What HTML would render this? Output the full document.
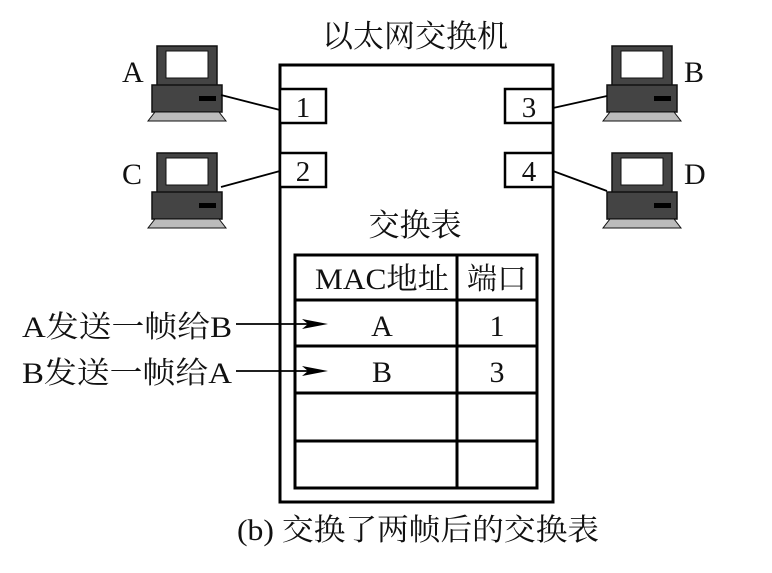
<!DOCTYPE html>
<html><head><meta charset="utf-8"><style>
body{margin:0;background:#fff}
text{font-family:"Liberation Serif","Noto Serif CJK SC",serif;fill:#111}
</style></head><body>
<svg width="772" height="568" viewBox="0 0 772 568" xmlns="http://www.w3.org/2000/svg">
<defs>
<g id="pc">
<rect x="0" y="0" width="60" height="40" fill="#444" stroke="#111" stroke-width="1.5"/>
<rect x="9" y="5" width="42" height="27" fill="#fff" stroke="#111" stroke-width="1"/>
<rect x="-5" y="39" width="70" height="27" fill="#444" stroke="#111" stroke-width="1.5"/>
<rect x="42" y="50" width="17" height="5" fill="#000"/>
<polygon points="-2,66 62,66 69,75 -9,75" fill="#bbb" stroke="#111" stroke-width="1"/>
</g>
</defs>
<text x="415" y="47" font-size="31" text-anchor="middle">以太网交换机</text>
<rect x="280" y="65" width="273" height="437" fill="none" stroke="#000" stroke-width="3"/>
<g fill="#fff" stroke="#000" stroke-width="2.5">
<rect x="280" y="89" width="46" height="34"/><rect x="280" y="153" width="46" height="34"/>
<rect x="505" y="89" width="48" height="34"/><rect x="505" y="153" width="48" height="34"/>
</g>
<g font-size="29" text-anchor="middle">
<text x="303" y="117">1</text><text x="303" y="181">2</text>
<text x="529" y="117">3</text><text x="529" y="181">4</text>
</g>
<use href="#pc" x="157" y="46"/><use href="#pc" x="157" y="153"/>
<use href="#pc" x="612" y="46"/><use href="#pc" x="612" y="153"/>
<g stroke="#000" stroke-width="1.8">
<line x1="221" y1="95" x2="280" y2="110"/><line x1="221" y1="187" x2="280" y2="171"/>
<line x1="553" y1="108" x2="607" y2="96"/><line x1="553" y1="171" x2="607" y2="191"/>
</g>
<g font-size="30">
<text x="122" y="82">A</text><text x="122" y="184">C</text>
<text x="684" y="82">B</text><text x="684" y="184">D</text>
</g>
<text x="415" y="236" font-size="31" text-anchor="middle">交换表</text>
<g fill="none" stroke="#000" stroke-width="3">
<rect x="295" y="255" width="242" height="233"/>
<line x1="457" y1="255" x2="457" y2="488"/>
<line x1="295" y1="300" x2="537" y2="300"/>
<line x1="295" y1="346" x2="537" y2="346"/>
<line x1="295" y1="393" x2="537" y2="393"/>
<line x1="295" y1="441" x2="537" y2="441"/>
</g>
<g font-size="30" text-anchor="middle">
<text x="382" y="289" textLength="134" lengthAdjust="spacingAndGlyphs">MAC地址</text><text x="497" y="289">端口</text>
<text x="382" y="336">A</text><text x="497" y="336">1</text>
<text x="382" y="382">B</text><text x="497" y="382">3</text>
</g>
<g font-size="30">
<text x="22" y="337" textLength="210" lengthAdjust="spacingAndGlyphs">A发送一帧给B</text>
<text x="22" y="383" textLength="210" lengthAdjust="spacingAndGlyphs">B发送一帧给A</text>
</g>
<g stroke="#000" stroke-width="1.8">
<line x1="236" y1="324" x2="315" y2="324"/><line x1="236" y1="371" x2="315" y2="371"/>
</g>
<polygon points="302,319 328,324 302,329 308,324" fill="#000"/>
<polygon points="302,366 328,371 302,376 308,371" fill="#000"/>
<text x="237" y="540" font-size="30" textLength="362" lengthAdjust="spacingAndGlyphs">(b) 交换了两帧后的交换表</text>
</svg>
</body></html>
